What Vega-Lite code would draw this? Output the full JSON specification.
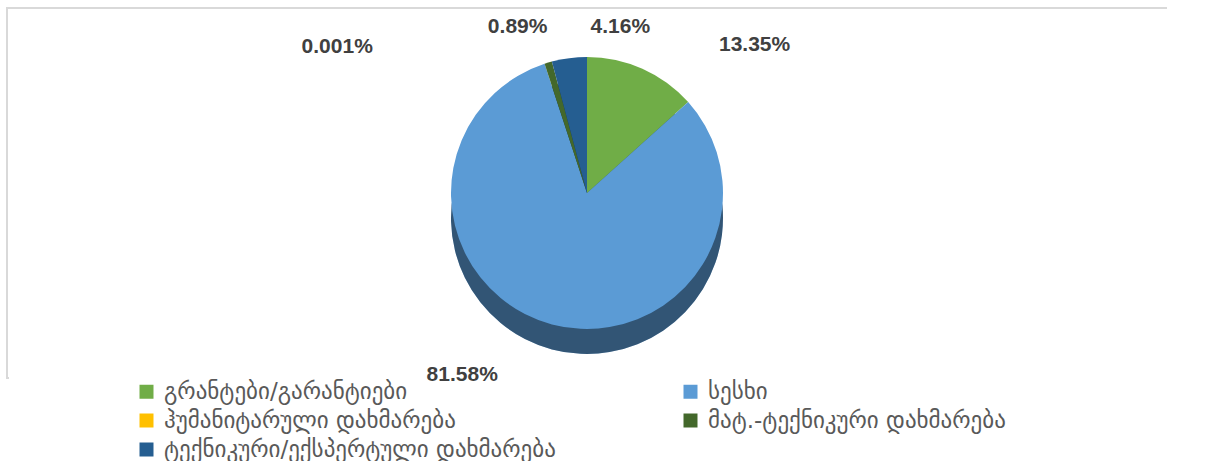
{
  "$schema": "https://vega.github.io/schema/vega-lite/v6.json",
  "width": 1160,
  "height": 370,
  "padding": {"left": 7, "top": 8, "right": 0, "bottom": 0},
  "background": "white",
  "view": {"stroke": "#d9d9d9", "strokeWidth": 2, "strokeDash": [1160, 1528, 1000]},
  "data": {
    "values": [
      {"idx": 1, "category": "გრანტები/გარანტიები", "share": 13.35, "label": "13.35%"},
      {"idx": 2, "category": "სესხი", "share": 81.58, "label": "81.58%"},
      {"idx": 3, "category": "ჰუმანიტარული დახმარება", "share": 0.001, "label": "0.001%"},
      {"idx": 4, "category": "მატ.-ტექნიკური დახმარება", "share": 0.89, "label": "0.89%"},
      {"idx": 5, "category": "ტექნიკური/ექსპერტული დახმარება", "share": 4.16, "label": "4.16%"}
    ]
  },
  "encoding": {
    "theta": {"field": "share", "type": "quantitative", "stack": true},
    "order": {"field": "idx", "type": "quantitative"}
  },
  "layer": [
    {
      "mark": {"type": "arc", "outerRadius": 136, "yOffset": 25},
      "encoding": {
        "color": {"field": "category", "type": "nominal"}
      }
    },
    {
      "mark": {"type": "arc", "outerRadius": 136, "yOffset": 25, "fill": "#000000", "fillOpacity": 0.45},
      "encoding": {
        "detail": {"field": "category", "type": "nominal"}
      }
    },
    {
      "mark": {"type": "arc", "outerRadius": 136},
      "encoding": {
        "color": {
          "field": "category",
          "type": "nominal",
          "scale": {
            "domain": ["გრანტები/გარანტიები", "სესხი", "ჰუმანიტარული დახმარება", "მატ.-ტექნიკური დახმარება", "ტექნიკური/ექსპერტული დახმარება"],
            "range": ["#70ad47", "#5b9bd5", "#ffc000", "#43682b", "#255e91"]
          },
          "legend": {
            "title": null,
            "orient": "none",
            "direction": "horizontal",
            "legendX": 128,
            "legendY": 372,
            "columns": 2,
            "columnPadding": 123,
            "rowPadding": 5,
            "padding": 0,
            "symbolType": "square",
            "symbolSize": 196,
            "symbolStrokeWidth": 0,
            "labelFont": "DejaVu Sans",
            "labelFontSize": 23,
            "labelColor": "#595959",
            "labelOffset": 6,
            "labelLimit": 700
          }
        }
      }
    },
    {
      "mark": {
        "type": "text",
        "radius": 166,
        "font": "Liberation Sans",
        "fontSize": 21,
        "fontWeight": "bold",
        "fill": "#404040",
        "align": "center",
        "baseline": "middle",
        "dx": {"expr": "datum.idx == 1 ? 100 : datum.idx == 2 ? -82 : datum.idx == 3 ? -198 : datum.idx == 4 ? -22 : 55"},
        "dy": {"expr": "datum.idx == 1 ? 4 : datum.idx == 2 ? 22 : datum.idx == 3 ? 12 : datum.idx == 4 ? -7 : -1"}
      },
      "encoding": {
        "text": {"field": "label", "type": "nominal"},
        "detail": {"field": "category", "type": "nominal"}
      }
    }
  ]
}
